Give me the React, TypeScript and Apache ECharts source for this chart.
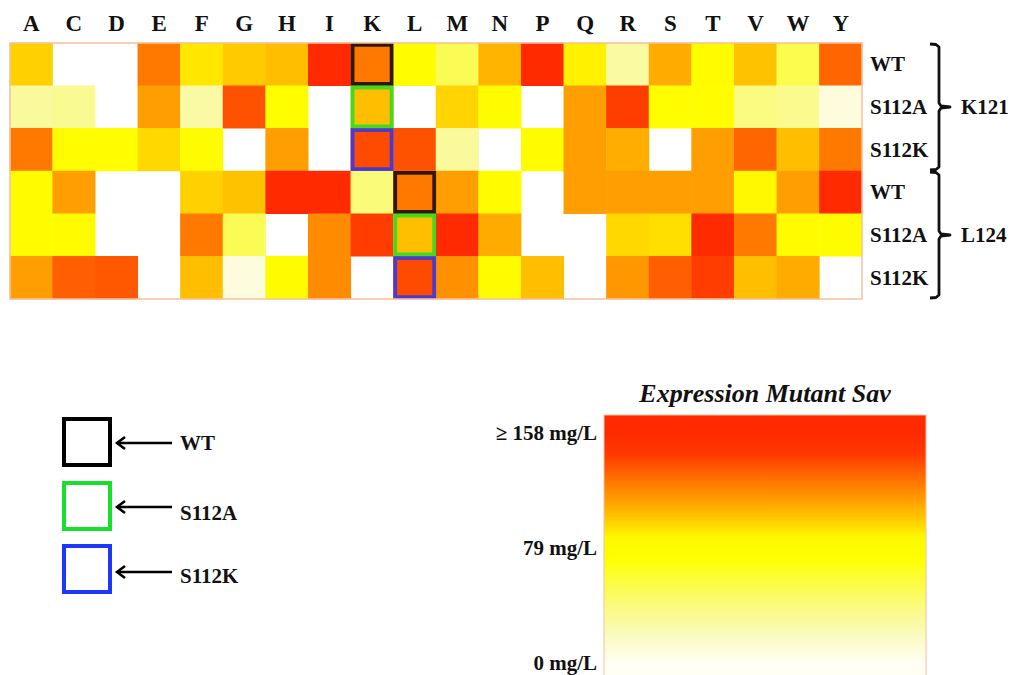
import React, { useEffect, useRef } from "react";
import * as echarts from "echarts";

// ---------- data ----------
const columns = ["A", "C", "D", "E", "F", "G", "H", "I", "K", "L", "M", "N", "P", "Q", "R", "S", "T", "V", "W", "Y"];
const rowIds = ["K121 WT", "K121 S112A", "K121 S112K", "L124 WT", "L124 S112A", "L124 S112K"];

// expression in mg/L (null = no value / blank cell)
const k121WT = [97, null, null, 124, 91, 99, 102, 158, 124, 75, 50, 105, 158, 88, 28, 108, 78, 101, 52, 130];
const k121S112A = [30, 33, null, 112, 27, 136, 76, null, 102, null, 96, 78, null, 112, 142, 76, 76, 38, 34, 8];
const k121S112K = [124, 76, 76, 95, 80, null, 112, null, 138, 136, 30, null, 78, 112, 107, null, 112, 130, 102, 124];
const l124WT = [78, 112, null, null, 97, 101, 158, 158, 40, 124, 112, 78, null, 112, 112, 112, 112, 86, 112, 158];
const l124S112A = [78, 78, null, null, 124, 50, null, 118, 142, 102, 158, 108, null, null, 95, 93, 158, 124, 78, 78];
const l124S112K = [112, 132, 134, null, 102, 8, 78, 118, null, 138, 116, 78, 102, null, 114, 132, 142, 102, 108, null];
const rows = [k121WT, k121S112A, k121S112K, l124WT, l124S112A, l124S112K];

// highlighted (reference) cells: [column index, row index, kind]
const highlights: [number, number, string][] = [
  [8, 0, "WT"], [8, 1, "S112A"], [8, 2, "S112K"],
  [9, 3, "WT"], [9, 4, "S112A"], [9, 5, "S112K"],
];
const highlightColors: Record<string, string> = { WT: "#000000", S112A: "#16e02a", S112K: "#1f36ff" };
const legendKinds = ["WT", "S112A", "S112K"];

const scaleMin = 0;
const scaleMax = 158;
const scaleColors = ["#fffff4", "#fcfccc", "#fafaa0", "#fbfb70", "#fcfc3a", "#ffff00", "#fff800", "#ffc400", "#ff9400", "#ff6800", "#ff3800", "#ff2a00"];
const scaleTicks = [
  { v: 158, label: "≥ 158 mg/L" },
  { v: 79, label: "79 mg/L" },
  { v: 0, label: "0 mg/L" },
];
const groups = [
  { label: "K121", first: 0, last: 2 },
  { label: "L124", first: 3, last: 5 },
];

const FONT = "'Liberation Serif', 'Times New Roman', serif";

export default function App() {
  const ref = useRef<HTMLDivElement>(null);
  useEffect(() => {
    if (!ref.current) return;
    const chart = echarts.init(ref.current, undefined, { renderer: "svg" });

    const heatData: any[] = [];
    rows.forEach((r, ri) => r.forEach((v, ci) => { if (v !== null) heatData.push([ci, ri, v]); }));

    // layout
    const gx = 10, gy = 43, gw = 852, gh = 256;
    const cellH = gh / rowIds.length;

    // color bar layout
    const barX = 604, barW = 322, barTop = 415, barBottom = 690;
    const yAt0 = 663, yAtMax = 433;
    const yOf = (v: number) => yAt0 - (v - scaleMin) * (yAt0 - yAtMax) / (scaleMax - scaleMin);
    const stops: any[] = [{ offset: 0, color: scaleColors[scaleColors.length - 1] }];
    for (let i = scaleColors.length - 1; i >= 0; i--) {
      const v = scaleMin + (i * (scaleMax - scaleMin)) / (scaleColors.length - 1);
      stops.push({ offset: (yOf(v) - barTop) / (barBottom - barTop), color: scaleColors[i] });
    }
    stops.push({ offset: 1, color: scaleColors[0] });

    const graphics: any[] = [];
    // heatmap outline
    graphics.push({ type: "rect", shape: { x: gx, y: gy, width: gw, height: gh }, style: { fill: "none", stroke: "#f4c29e", lineWidth: 1.5 }, z: 50, silent: true });

    // brackets
    groups.forEach((g) => {
      const top = gy + g.first * cellH + 1;
      const bot = gy + (g.last + 1) * cellH - 1;
      const mid = (top + bot) / 2;
      const bx = 939;
      graphics.push({
        type: "polyline",
        shape: { points: [[930, top], [936, top + 0.5], [bx, top + 3], [bx, mid - 4], [bx + 2, mid - 1], [bx + 11, mid], [bx + 2, mid + 1], [bx, mid + 4], [bx, bot - 3], [936, bot - 0.5], [930, bot]] },
        style: { fill: "none", stroke: "#111", lineWidth: 2.8, lineJoin: "round" },
        silent: true,
      });
      graphics.push({
        type: "text", x: 961, y: mid,
        style: { text: g.label, font: `bold 21px ${FONT}`, fill: "#111", textVerticalAlign: "middle", textAlign: "left" },
        silent: true,
      });
    });

    // legend of highlight boxes
    const legY = [417, 481, 544];
    const arrowY = [443, 507, 572];
    const textY = [443, 513, 576];
    legendKinds.forEach((k, i) => {
      graphics.push({ type: "rect", shape: { x: 64, y: legY[i] + 2, width: 46, height: 46 }, style: { fill: "#fff", stroke: highlightColors[k], lineWidth: 4 }, silent: true });
      graphics.push({ type: "polyline", shape: { points: [[117, arrowY[i]], [172, arrowY[i]]] }, style: { fill: "none", stroke: "#000", lineWidth: 2.6 }, silent: true });
      graphics.push({ type: "polyline", shape: { points: [[125, arrowY[i] - 6], [117, arrowY[i]], [125, arrowY[i] + 6]] }, style: { fill: "none", stroke: "#000", lineWidth: 2.6 }, silent: true });
      graphics.push({ type: "text", x: 180, y: textY[i], style: { text: k, font: `bold 21px ${FONT}`, fill: "#111", textVerticalAlign: "middle" }, silent: true });
    });

    // color bar
    graphics.push({
      type: "rect", shape: { x: barX, y: barTop, width: barW, height: barBottom - barTop },
      style: { fill: new echarts.graphic.LinearGradient(0, 0, 0, 1, stops), stroke: "#f4c29e", lineWidth: 1 },
      silent: true,
    });
    graphics.push({
      type: "text", x: barX + barW / 2, y: 393,
      style: { text: "Expression Mutant Sav", font: `italic bold 26px ${FONT}`, fill: "#111", textAlign: "center", textVerticalAlign: "middle" },
      silent: true,
    });
    scaleTicks.forEach((t) => {
      graphics.push({
        type: "text", x: 597, y: yOf(t.v),
        style: { text: t.label, font: `bold 21px ${FONT}`, fill: "#111", textAlign: "right", textVerticalAlign: "middle" },
        silent: true,
      });
    });

    chart.setOption({
      animation: false,
      backgroundColor: "#ffffff",
      grid: { left: gx, top: gy, width: gw, height: gh, containLabel: false },
      xAxis: {
        type: "category", position: "top", data: columns,
        axisLine: { show: false }, axisTick: { show: false }, splitLine: { show: false }, splitArea: { show: false },
        axisLabel: { fontFamily: FONT, fontWeight: "bold", fontSize: 23, color: "#111", margin: 8 },
      },
      yAxis: {
        type: "category", position: "right", inverse: true, data: rowIds,
        axisLine: { show: false }, axisTick: { show: false }, splitLine: { show: false }, splitArea: { show: false },
        axisLabel: { fontFamily: FONT, fontWeight: "bold", fontSize: 21, color: "#111", margin: 8, formatter: (v: string) => v.split(" ")[1] },
      },
      visualMap: {
        show: false, type: "continuous", min: scaleMin, max: scaleMax, dimension: 2, seriesIndex: 0,
        inRange: { color: scaleColors },
      },
      series: [
        {
          type: "heatmap", data: heatData, itemStyle: { borderWidth: 0 }, emphasis: { disabled: true }, silent: true,
        },
        {
          type: "scatter", symbol: "rect", symbolSize: [39, 39], z: 10, silent: true,
          data: highlights.map(([c, r, k]) => ({
            value: [c, r],
            itemStyle: { color: "rgba(0,0,0,0)", borderColor: highlightColors[k], borderWidth: 3.8 },
          })),
        },
      ],
      graphic: graphics,
    });
    return () => chart.dispose();
  }, []);
  return <div ref={ref} style={{ position: "fixed", left: 0, top: 0, width: 1011, height: 675 }} />;
}
